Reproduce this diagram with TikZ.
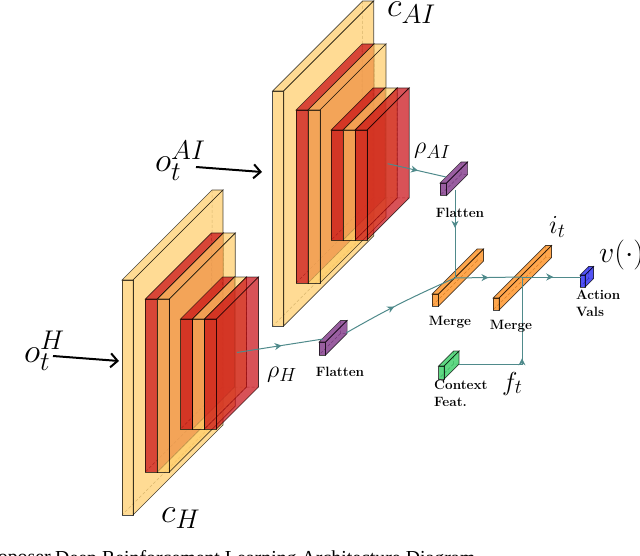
\documentclass[tikz,border=0pt]{standalone}
\usepackage{fix-cm}
\usepackage{fontspec}
\usetikzlibrary{arrows.meta,decorations.markings}
\newfontfamily\capfont{Liberation Serif}
\DeclareMathSizes{34}{34}{27}{20}
\DeclareMathSizes{30}{30}{22}{16}
\DeclareMathSizes{26}{26}{20}{14}
\DeclareMathSizes{24}{24}{19}{14}
\definecolor{convyellow}{HTML}{FFCC66}
\definecolor{poolred}{HTML}{C80810}
\definecolor{mergeorange}{HTML}{FF8000}
\definecolor{flatpurple}{HTML}{6E1A78}
\definecolor{ctxgreen}{HTML}{1CC850}
\definecolor{valblue}{HTML}{0A0AF0}
\definecolor{linkteal}{HTML}{4F8A8B}
\newcommand{\layerbox}[6]{% x,y of front top left, width, height, depth, colour
  \draw[hiddenline] (#1,#2)++(#5,-#5) -- ++(0,#4) -- ++(#3,0) ++(-#3,0) -- ++(-#5,#5);
  \draw[faceline,fill=#6] (#1,#2) -- ++(#5,-#5) -- ++(#3,0) -- ++(-#5,#5) -- cycle;
  \draw[faceline,fill=#6] (#1,#2)++(#3,0) -- ++(#5,-#5) -- ++(0,#4) -- ++(-#5,#5) -- cycle;
  \draw[faceline,fill=#6] (#1,#2) -- ++(#3,0) -- ++(0,#4) -- ++(-#3,0) -- cycle;
}
\newcommand{\convstack}{%
  \layerbox{122}{280}{11}{235}{90}{convyellow}
  \layerbox{145.3}{299}{12}{173}{66}{poolred}
  \layerbox{157.3}{299}{12}{173}{66}{convyellow}
  \layerbox{180.5}{319}{12}{110}{42}{poolred}
  \layerbox{192.5}{319}{12}{110}{42}{convyellow}
  \layerbox{204.5}{319}{12}{110}{42}{poolred}
}
\begin{document}
\begin{tikzpicture}[x=1pt,y=-1pt,>=Stealth,
  faceline/.style={draw=black,draw opacity=.7,line width=.7pt,fill opacity=.7},
  hiddenline/.style={draw=black,draw opacity=.5,line width=.5pt,densely dashed},
  txt/.style={inner sep=0,font=\fontsize{13.5}{16.5}\selectfont\bfseries,align=left},
  sym/.style={inner sep=0,anchor=base west,font=\fontsize{34}{40}\selectfont},
  small/.style={inner sep=0,anchor=base west,font=\fontsize{26}{30}\selectfont},
  obsarrow/.style={line width=2pt,-{Straight Barb[length=7pt,width=14pt]}},
  link/.style={draw=linkteal,line width=1pt},
  flow/.style={postaction={decorate},decoration={markings,mark=at position #1 with {\arrow{Stealth[length=7pt,width=7pt,fill=linkteal]}}}}]
\useasboundingbox (0,0) rectangle (640,556);
% the two stacks
\convstack
\begin{scope}[shift={(150.7,-189)}]
\convstack
\end{scope}
% small boxes
\layerbox{319}{342}{6.6}{13}{21.5}{flatpurple}
\layerbox{440}{183}{6.6}{12.5}{21}{flatpurple}
\layerbox{432}{294}{6.5}{12}{45}{mergeorange}
\layerbox{493}{298}{6}{12}{52.5}{mergeorange}
\layerbox{438.5}{366}{5.5}{13}{15}{ctxgreen}
\layerbox{580}{275}{5}{12}{8.5}{valblue}
% links
\coordinate (stackH) at (237,352.5);
\coordinate (flatHin) at (323,339);
\coordinate (flatHout) at (346,333);
\coordinate (stackAI) at (387.7,163.7);
\coordinate (flatAIin) at (446,177);
\coordinate (flatAIout) at (455,190);
\coordinate (mergeA) at (455,278);
\coordinate (mergeB) at (522,277);
\coordinate (action) at (581,277);
\coordinate (ctx) at (459,364.5);
\coordinate (corner) at (522,364.5);
\draw[link,flow=.52] (stackH) -- (flatHin);
\draw[link,flow=.45] (flatHout) to[bend left=3] (mergeA);
\draw[link,flow=.52] (stackAI) -- (flatAIin);
\draw[link,flow=.43] (flatAIout) -- (mergeA);
\draw[link,flow=.5] (mergeA) -- (mergeB);
\draw[link,flow=.53] (mergeB) -- (action);
\draw[link] (ctx) -- (corner);
\draw[link,flow=.07] (corner) -- (mergeB);
% inputs
\coordinate (inAIa) at (196,167);
\coordinate (inAIb) at (262,172);
\coordinate (inHa) at (53,356);
\coordinate (inHb) at (119,361);
\draw[obsarrow] (inAIa) -- (inAIb);
\draw[obsarrow] (inHa) -- (inHb);
% labels
\node[sym] (oAI) at (155,172) {$o_t^{AI}$};
\node[sym] (oH) at (24,362) {$o_t^{H}$};
\node[sym] (cAI) at (387,17) {$c_{AI}$};
\node[sym] (cH) at (161,522) {$c_{H}$};
\node[small,font=\fontsize{24}{30}\selectfont] (rhoAI) at (414,154) {$\rho_{AI}$};
\node[small,font=\fontsize{24}{30}\selectfont] (rhoH) at (267,377) {$\rho_{H}$};
\node[small] (it) at (549,234) {$i_t$};
\node[small] (ft) at (502,390) {$f_t$};
\node[small,font=\fontsize{30}{30}\selectfont] (val) at (599,262) {$v(\cdot)$};
\node[txt] (flatH) at (340,372) {Flatten};
\node[txt] (flatAI) at (460,213) {Flatten};
\node[txt] (mergeAt) at (450,322) {Merge};
\node[txt] (mergeBt) at (511,326) {Merge};
\node[txt,anchor=north west] (ctxt) at (434,380) {Context\\Feat.};
\node[txt,anchor=north west] (valt) at (576,290) {Action\\Vals};
\node[anchor=north east,inner sep=0,font=\capfont\fontsize{19.85}{22}\selectfont] (capl) at (51,550) {Proposer};
\node[anchor=north west,inner sep=0,font=\capfont\fontsize{19.85}{22}\selectfont] (capr) at (55,550) {Deep Reinforcement Learning Architecture Diagram};
\end{tikzpicture}
\end{document}
